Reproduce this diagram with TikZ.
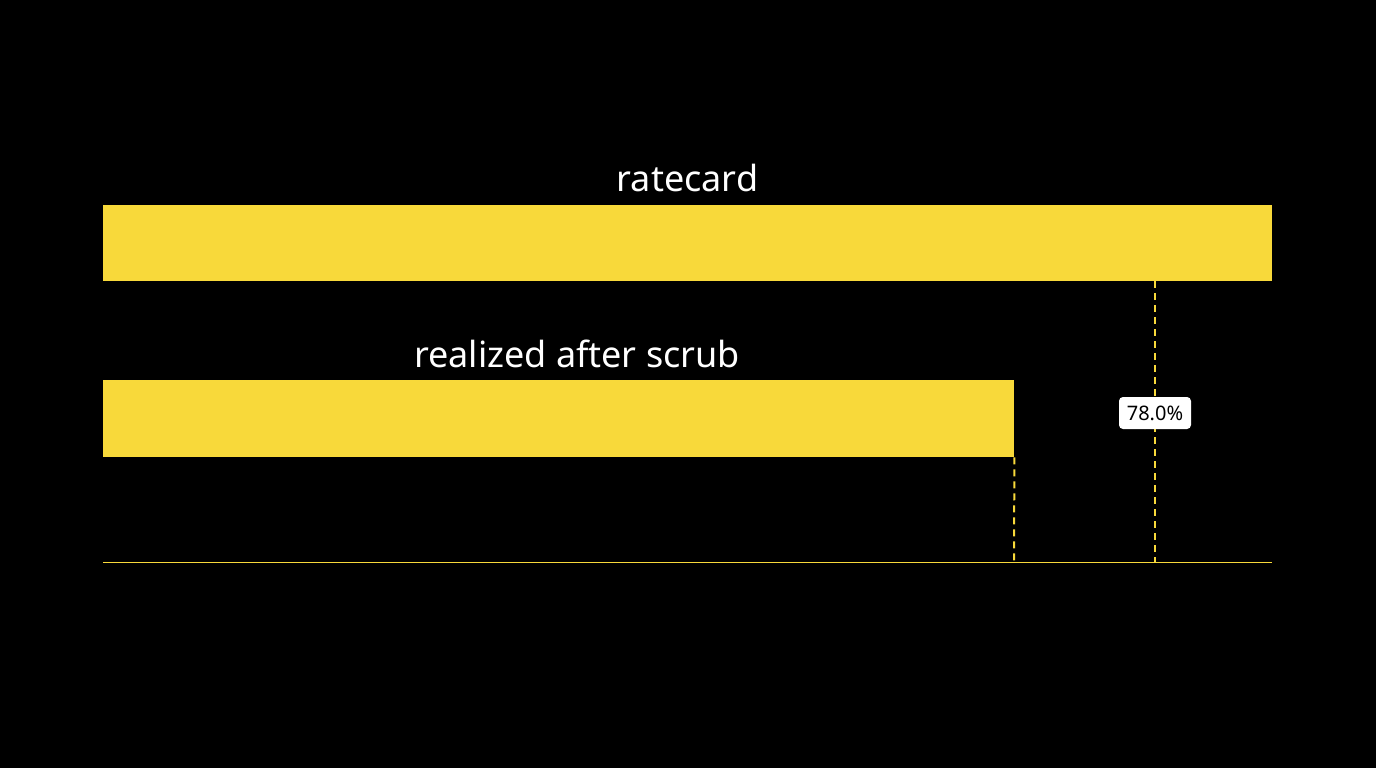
\documentclass[tikz,border=0pt]{standalone}
\usepackage{fontspec}
\setmainfont{Noto Sans}
\definecolor{bar}{HTML}{F8D93A}
\tikzset{barbox/.style={fill=bar,draw=none},
 title/.style={text=white,font=\fontsize{36}{40}\selectfont,inner sep=0pt,anchor=base},
 guide/.style={bar,line width=2pt,dash pattern=on 7pt off 5pt},
 tag/.style={fill=white,rounded corners=4pt,font=\fontsize{20}{24}\selectfont,text=black,minimum width=72pt,minimum height=32pt,inner sep=2pt}}
\begin{document}
\begin{tikzpicture}[x=1pt,y=-1pt]
\fill[black] (0,0) rectangle (1376,768);
\useasboundingbox (0,0) rectangle (1376,768);
\node[barbox,minimum width=1169pt,minimum height=76pt,inner sep=0pt,anchor=north west] (top) at (103,205) {};
\node[barbox,minimum width=911pt,minimum height=77pt,inner sep=0pt,anchor=north west] (bot) at (103,380) {};
\node[title] (t1) at (687.5,191) {ratecard};
\node[title] (t2) at (577,367) {realized after scrub};
\coordinate (axl) at (103,562);
\coordinate (axr) at (1272,562);
\draw[bar,line width=1pt] (axl) -- (axr);
\coordinate (g1) at (1155,562);
\coordinate (g1t) at (1155,281);
\coordinate (g2) at (1014,562);
\draw[guide] (g1t) -- (g1);
\draw[guide] (bot.south east) -- (g2);
\node[tag] (lab) at (1155,413) {78.0\%};
\end{tikzpicture}
\end{document}
